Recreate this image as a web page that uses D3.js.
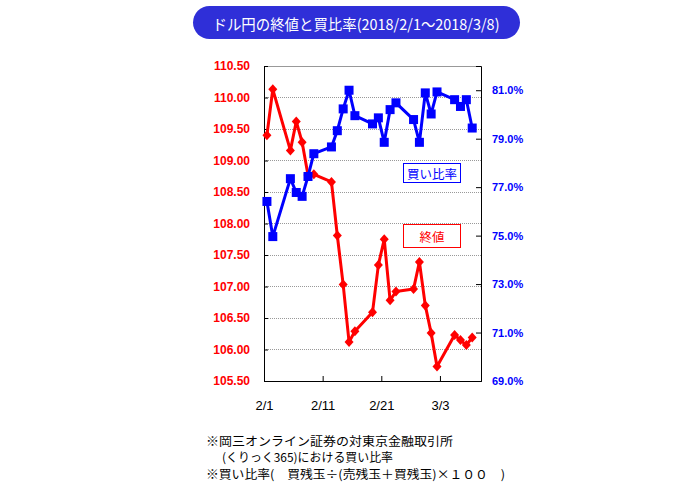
<!DOCTYPE html>
<html>
<head>
<meta charset="utf-8">
<script src="https://cdn.jsdelivr.net/npm/d3@7"></script>
<style>
  html, body { margin: 0; padding: 0; background: #fff; }
  svg { display: block; }
</style>
</head>
<body>
<svg id="chart" width="700" height="485"></svg>
<script>
// ---- data ----
const dates = ["2018-02-01","2018-02-02","2018-02-05","2018-02-06","2018-02-07","2018-02-08","2018-02-09",
  "2018-02-12","2018-02-13","2018-02-14","2018-02-15","2018-02-16",
  "2018-02-19","2018-02-20","2018-02-21","2018-02-22","2018-02-23",
  "2018-02-26","2018-02-27","2018-02-28","2018-03-01","2018-03-02",
  "2018-03-05","2018-03-06","2018-03-07","2018-03-08"];
const closeValues = [109.40,110.13,109.16,109.62,109.29,108.77,108.78,
  108.66,107.81,107.03,106.12,106.29,
  106.59,107.34,107.75,106.78,106.92,
  106.96,107.39,106.70,106.26,105.73,
  106.23,106.15,106.07,106.19];
const buyRatio = [76.41,74.96,77.35,76.78,76.62,77.44,78.38,
  78.66,79.33,80.23,81.00,79.95,
  79.61,79.86,78.85,80.20,80.48,
  79.79,78.85,80.89,80.02,80.93,
  80.61,80.33,80.61,79.44];
const leftTicks = [105.5,106.0,106.5,107.0,107.5,108.0,108.5,109.0,109.5,110.0,110.5];
const rightTicks = [69,71,73,75,77,79,81];
const xTickDates = ["2018-02-01","2018-02-11","2018-02-21","2018-03-03"];
const xTickLabels = ["2/1","2/11","2/21","3/3"];
const titleText = "ドル円の終値と買比率(2018/2/1～2018/3/8)";
const legendRatio = "買い比率";
const legendClose = "終値";
const notes = ["※岡三オンライン証券の対東京金融取引所",
  "(くりっく365)における買い比率",
  "※買い比率(　買残玉÷(売残玉＋買残玉)×１００　)"];

// ---- layout ----
const svg = d3.select("#chart");
const L = 264, R = 481, T = 66, B = 381;
const parse = d3.timeParse("%Y-%m-%d");
const x = d3.scaleTime().domain([parse("2018-02-01"), parse("2018-03-10")]).range([L, R]);
const yL = d3.scaleLinear().domain([105.5, 110.5]).range([B, T]);
const yR = d3.scaleLinear().domain([69, 82]).range([B, T]);
const mid = s => d3.timeHour.offset(parse(s), 12);

const RED = "#ff0000", BLUE = "#0000ff";
const numFont = "'Liberation Sans', Arial, sans-serif";
const jpFont = "'Noto Sans CJK JP', 'Noto Sans', sans-serif";

// title
svg.append("rect").attr("x", 193).attr("y", 6).attr("width", 327).attr("height", 33)
  .attr("rx", 16.5).attr("ry", 16.5).attr("fill", "#2f2fd8");
svg.append("text").attr("x", 356).attr("y", 23).attr("text-anchor", "middle")
  .attr("dominant-baseline", "central").attr("fill", "#fff")
  .attr("font-family", jpFont).attr("font-size", 15)
  .attr("textLength", 287).attr("lengthAdjust", "spacingAndGlyphs")
  .text(titleText);

// gridlines
svg.append("g").selectAll("line").data(leftTicks.slice(1, -1)).join("line")
  .attr("x1", L).attr("x2", R).attr("y1", d => yL(d)).attr("y2", d => yL(d))
  .attr("stroke", "#999").attr("stroke-width", 1).attr("stroke-dasharray", "1,1")
  .attr("shape-rendering", "crispEdges");
// top border
svg.append("line").attr("x1", L).attr("x2", R).attr("y1", T).attr("y2", T)
  .attr("stroke", "#999").attr("shape-rendering", "crispEdges");

// axes
const gL = svg.append("g").attr("transform", `translate(${L},0)`)
  .call(d3.axisRight(yL).tickValues(leftTicks).tickSize(4).tickFormat(d3.format(".2f")));
gL.select(".domain").attr("stroke", "#000");
gL.selectAll(".tick text").attr("x", -14).attr("text-anchor", "end")
  .attr("fill", RED).attr("font-weight", "bold").attr("font-size", 12).attr("font-family", numFont);

const gR = svg.append("g").attr("transform", `translate(${R},0)`)
  .call(d3.axisLeft(yR).tickValues(rightTicks).tickSize(5).tickFormat(d => d3.format(".1f")(d) + "%"));
gR.select(".domain").attr("stroke", "#000");
gR.selectAll(".tick text").attr("x", 11).attr("text-anchor", "start")
  .attr("fill", BLUE).attr("font-weight", "bold").attr("font-size", 11).attr("font-family", numFont);

const gX = svg.append("g").attr("transform", `translate(0,${B})`)
  .call(d3.axisTop(x).tickValues(xTickDates.map(parse)).tickSize(5)
    .tickFormat((d, i) => xTickLabels[i]));
gX.select(".domain").attr("stroke", "#000");
gX.selectAll(".tick text").attr("y", 25).attr("dy", "0.32em")
  .attr("fill", "#000").attr("font-size", 13).attr("font-family", numFont);
svg.selectAll(".tick line").attr("stroke", "#000");

// red close series
const redLine = d3.line().x((d, i) => x(mid(dates[i]))).y(d => yL(d));
svg.append("path").datum(closeValues).attr("d", redLine)
  .attr("fill", "none").attr("stroke", RED).attr("stroke-width", 3).attr("stroke-linejoin", "round");
svg.append("g").selectAll("path").data(closeValues).join("path")
  .attr("transform", (d, i) => `translate(${x(mid(dates[i]))},${yL(d)})`)
  .attr("d", "M0,-5L4.5,0L0,5L-4.5,0Z")
  .attr("fill", RED);

// blue ratio series
const blueLine = d3.line().x((d, i) => x(mid(dates[i]))).y(d => yR(d));
svg.append("path").datum(buyRatio).attr("d", blueLine)
  .attr("fill", "none").attr("stroke", BLUE).attr("stroke-width", 3).attr("stroke-linejoin", "round");
svg.append("g").selectAll("rect").data(buyRatio).join("rect")
  .attr("x", (d, i) => x(mid(dates[i])) - 4.5).attr("y", d => yR(d) - 4.5)
  .attr("width", 9).attr("height", 9).attr("fill", BLUE);

// legend boxes
svg.append("rect").attr("x", 403.5).attr("y", 163.5).attr("width", 57).attr("height", 19)
  .attr("fill", "#fff").attr("stroke", BLUE);
svg.append("text").attr("x", 432).attr("y", 173.5).attr("text-anchor", "middle")
  .attr("dominant-baseline", "central").attr("fill", BLUE)
  .attr("font-family", jpFont).attr("font-size", 12.5).text(legendRatio);
svg.append("rect").attr("x", 403.5).attr("y", 224.5).attr("width", 57).attr("height", 23)
  .attr("fill", "#fff").attr("stroke", RED);
svg.append("text").attr("x", 432).attr("y", 236.5).attr("text-anchor", "middle")
  .attr("dominant-baseline", "central").attr("fill", RED)
  .attr("font-family", jpFont).attr("font-size", 12.5).text(legendClose);

// footnotes
const noteX = [206, 222, 206];
const noteY = [440, 456.5, 473];
const noteW = [247, 171, 299];
svg.append("g").selectAll("text").data(notes).join("text")
  .attr("x", (d, i) => noteX[i]).attr("y", (d, i) => noteY[i])
  .attr("dominant-baseline", "central").attr("fill", "#000")
  .attr("font-family", jpFont).attr("font-size", 12)
  .attr("textLength", (d, i) => noteW[i]).attr("lengthAdjust", "spacingAndGlyphs")
  .text(d => d);
</script>
</body>
</html>
